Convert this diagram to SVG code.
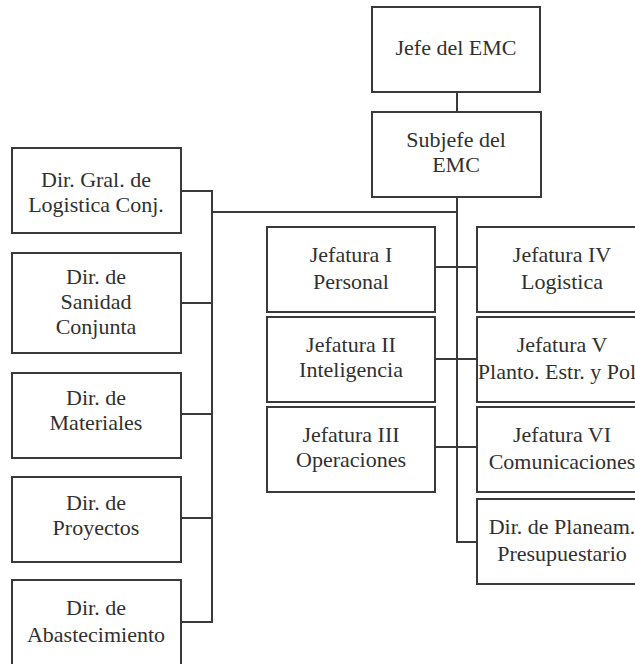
<svg xmlns="http://www.w3.org/2000/svg" width="635" height="664" viewBox="0 0 635 664">
  <style>
    .box { fill: #ffffff; stroke: #3a3a3a; stroke-width: 2; }
    .lbl { font-size: 22px; fill: #303030; text-anchor: middle; }
    .wire { fill: none; stroke: #3a3a3a; stroke-width: 2; }
  </style>
  <rect width="635" height="664" fill="#ffffff"/>

  <!-- connectors -->
  <g id="connectors">
    <path class="wire" d="M457 92 V112"/>
    <path class="wire" d="M457 197 V542 H477"/>
    <path class="wire" d="M457 212 H212"/>
    <path class="wire" d="M181 191 H212 V622 H181"/>
    <path class="wire" d="M181 303 H212"/>
    <path class="wire" d="M181 414 H212"/>
    <path class="wire" d="M181 518 H212"/>
    <path class="wire" d="M435 267 H477"/>
    <path class="wire" d="M435 359 H477"/>
    <path class="wire" d="M435 447 H477"/>
  </g>

  <g font-family="Liberation Serif, DejaVu Serif, serif">
  <!-- command -->
  <g id="jefe">
    <rect class="box" x="372" y="7" width="168" height="85"/>
    <text class="lbl" x="456" y="55">Jefe del EMC</text>
  </g>
  <g id="subjefe">
    <rect class="box" x="372" y="112" width="169" height="85"/>
    <text class="lbl" x="456" y="147">Subjefe del</text>
    <text class="lbl" x="456" y="172">EMC</text>
  </g>

  <!-- logistics directorates (left column) -->
  <g id="dir-gral-logistica">
    <rect class="box" x="12" y="148" width="169" height="85"/>
    <text class="lbl" x="96" y="187">Dir. Gral. de</text>
    <text class="lbl" x="96" y="212">Logistica Conj.</text>
  </g>
  <g id="dir-sanidad">
    <rect class="box" x="12" y="253" width="169" height="100"/>
    <text class="lbl" x="96" y="284">Dir. de</text>
    <text class="lbl" x="96" y="309">Sanidad</text>
    <text class="lbl" x="96" y="334">Conjunta</text>
  </g>
  <g id="dir-materiales">
    <rect class="box" x="12" y="373" width="169" height="85"/>
    <text class="lbl" x="96" y="405">Dir. de</text>
    <text class="lbl" x="96" y="430">Materiales</text>
  </g>
  <g id="dir-proyectos">
    <rect class="box" x="12" y="477" width="169" height="85"/>
    <text class="lbl" x="96" y="510">Dir. de</text>
    <text class="lbl" x="96" y="535">Proyectos</text>
  </g>
  <g id="dir-abastecimiento">
    <rect class="box" x="12" y="580" width="169" height="100"/>
    <text class="lbl" x="96" y="615">Dir. de</text>
    <text class="lbl" x="96" y="642">Abastecimiento</text>
  </g>

  <!-- staff sections (middle column) -->
  <g id="jefatura-1">
    <rect class="box" x="267" y="227" width="168" height="85"/>
    <text class="lbl" x="351" y="262">Jefatura I</text>
    <text class="lbl" x="351" y="289">Personal</text>
  </g>
  <g id="jefatura-2">
    <rect class="box" x="267" y="317" width="168" height="85"/>
    <text class="lbl" x="351" y="352">Jefatura II</text>
    <text class="lbl" x="351" y="377">Inteligencia</text>
  </g>
  <g id="jefatura-3">
    <rect class="box" x="267" y="407" width="168" height="85"/>
    <text class="lbl" x="351" y="442">Jefatura III</text>
    <text class="lbl" x="351" y="467">Operaciones</text>
  </g>

  <!-- staff sections (right column) -->
  <g id="jefatura-4">
    <rect class="box" x="477" y="227" width="175" height="85"/>
    <text class="lbl" x="562" y="262">Jefatura IV</text>
    <text class="lbl" x="562" y="289">Logistica</text>
  </g>
  <g id="jefatura-5">
    <rect class="box" x="477" y="317" width="175" height="85"/>
    <text class="lbl" x="562" y="352">Jefatura V</text>
    <text class="lbl" x="557" y="379">Planto. Estr. y Pol</text>
  </g>
  <g id="jefatura-6">
    <rect class="box" x="477" y="407" width="175" height="85"/>
    <text class="lbl" x="562" y="442">Jefatura VI</text>
    <text class="lbl" x="562" y="469">Comunicaciones</text>
  </g>
  <g id="dir-planeamiento">
    <rect class="box" x="477" y="499" width="175" height="85"/>
    <text class="lbl" x="562" y="534">Dir. de Planeam.</text>
    <text class="lbl" x="562" y="561">Presupuestario</text>
  </g>
  </g>
</svg>
